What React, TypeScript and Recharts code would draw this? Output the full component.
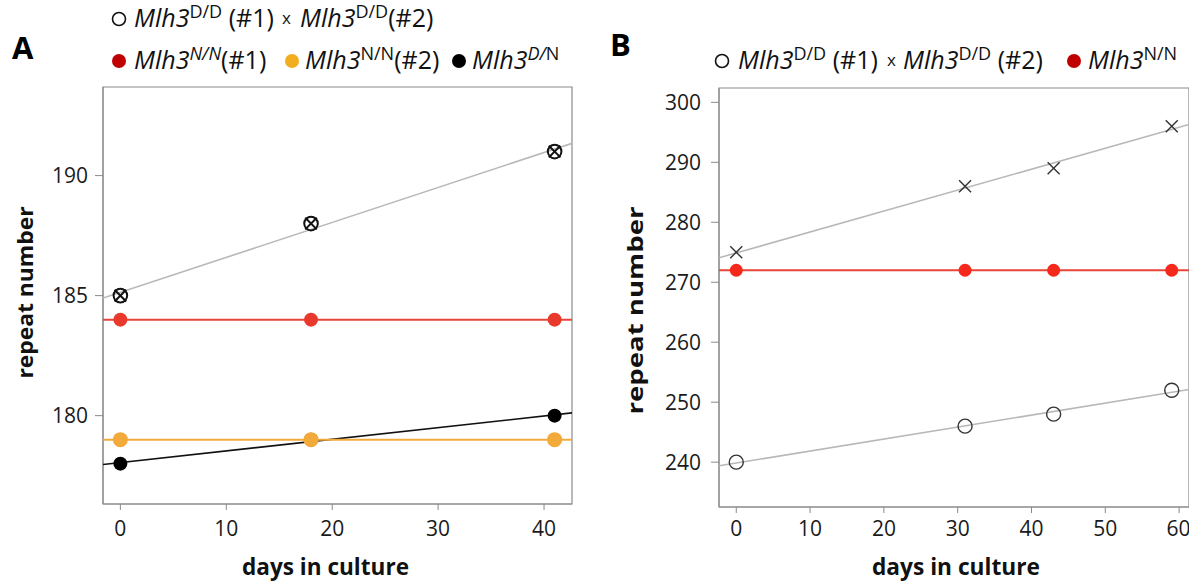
import React from 'react';
import { ScatterChart, Scatter, XAxis, YAxis, ReferenceArea, Label } from 'recharts';

// Panel A: days in culture and repeat numbers per line
const daysA = [0, 18, 41];
const ddA1 = [185, 188, 191];
const ddA2 = [185, 188, 191];
const nnA1 = [184, 184, 184];
const nnA2 = [179, 179, 179];
const dnA = [178, 179, 180];
const xTicksA = [0, 10, 20, 30, 40];
const yTicksA = [180, 185, 190];

// Panel B
const daysB = [0, 31, 43, 59];
const ddB1 = [240, 246, 248, 252];
const ddB2 = [275, 286, 289, 296];
const nnB = [272, 272, 272, 272];
const xTicksB = [0, 10, 20, 30, 40, 50, 60];
const yTicksB = [240, 250, 260, 270, 280, 290, 300];

const FONT = '"Open Sans", sans-serif';
const RED_DOT = '#e8392c';
const RED_LINE = '#e8453a';
const ORANGE = '#f2aa3a';
const GRAY_LINE = '#b8b8b8';
const FRAME = '#8a8a8a';

type Pt = { x: number; y: number };

function toPoints(xs: number[], ys: number[]): Pt[] {
  return xs.map((x, i) => ({ x, y: ys[i] }));
}

// least squares fit, drawn across the whole x range of the panel
function fitLine(xs: number[], ys: number[], domain: number[]): Pt[] {
  const n = xs.length;
  const mx = xs.reduce((a, b) => a + b, 0) / n;
  const my = ys.reduce((a, b) => a + b, 0) / n;
  let sxy = 0;
  let sxx = 0;
  xs.forEach((x, i) => {
    sxy += (x - mx) * (ys[i] - my);
    sxx += (x - mx) * (x - mx);
  });
  const slope = sxx === 0 ? 0 : sxy / sxx;
  const icpt = my - slope * mx;
  return domain.map((x) => ({ x, y: icpt + slope * x }));
}

const noShape = () => <g />;

const dot = (fill: string, r: number) => (p: any) => (
  <circle cx={p.cx} cy={p.cy} r={r} fill={fill} />
);

const openCircle = (r: number, sw: number, stroke: string) => (p: any) => (
  <circle cx={p.cx} cy={p.cy} r={r} fill="none" stroke={stroke} strokeWidth={sw} />
);

const cross = (h: number, sw: number, stroke: string) => (p: any) => (
  <g stroke={stroke} strokeWidth={sw}>
    <line x1={p.cx - h} y1={p.cy - h} x2={p.cx + h} y2={p.cy + h} />
    <line x1={p.cx - h} y1={p.cy + h} x2={p.cx + h} y2={p.cy - h} />
  </g>
);

const xTitle = (dx: number, len: number) => (props: any) => {
  const vb = props.viewBox;
  return (
    <text
      x={vb.x + vb.width / 2 + dx}
      y={575}
      textAnchor="middle"
      fontFamily={FONT}
      fontWeight={700}
      fontSize={23}
      fill="#111"
      textLength={len}
      lengthAdjust="spacingAndGlyphs"
    >
      days in culture
    </text>
  );
};

const yTitle = (x: number, dy: number, len: number) => (props: any) => {
  const vb = props.viewBox;
  const cy = vb.y + vb.height / 2 + dy;
  return (
    <text
      x={x}
      y={cy}
      transform={`rotate(-90 ${x} ${cy})`}
      textAnchor="middle"
      fontFamily={FONT}
      fontWeight={700}
      fontSize={22}
      fill="#111"
      textLength={len}
      lengthAdjust="spacingAndGlyphs"
    >
      repeat number
    </text>
  );
};

const tickStyle = { fill: '#1a1a1a', fontSize: 21, fontFamily: FONT };

const sup = (s: string, italic: boolean) => (
  <span
    style={{
      fontSize: '0.72em',
      position: 'relative',
      top: '-0.5em',
      fontStyle: italic ? 'italic' : 'normal',
    }}
  >
    {s}
  </span>
);

const legendBase: React.CSSProperties = {
  position: 'absolute',
  fontFamily: FONT,
  fontSize: 25,
  whiteSpace: 'nowrap',
  color: '#111',
  lineHeight: '30px',
};

// marker centred at (cx, cy), text starting at tx
function LegendItem({ cx, tx, cy, kind, color, children }: any) {
  let mark: React.ReactNode = null;
  if (kind === 'circle') {
    mark = <circle cx={9} cy={9} r={6.5} fill="none" stroke="#111" strokeWidth={1.6} />;
  } else if (kind === 'dot') {
    mark = <circle cx={9} cy={9} r={7} fill={color} />;
  }
  return (
    <>
      {kind === 'x' ? (
        <span
          style={{
            ...legendBase,
            fontSize: 17,
            left: cx - 5,
            top: cy - 13,
            lineHeight: '24px',
          }}
        >
          x
        </span>
      ) : (
        <svg width={18} height={18} style={{ position: 'absolute', left: cx - 9, top: cy - 9 }}>
          {mark}
        </svg>
      )}
      <div style={{ ...legendBase, left: tx, top: cy - 17 }}>{children}</div>
    </>
  );
}

function PanelA() {
  const dx = [-1.64, 42.64];
  const dy = [176.32, 193.69];
  return (
    <ScatterChart
      width={600}
      height={581}
      margin={{ top: 87, right: 28, bottom: 0, left: 0 }}
      style={{ position: 'absolute', left: 0, top: 0 }}
    >
      <XAxis
        type="number"
        dataKey="x"
        domain={dx}
        ticks={xTicksA}
        allowDataOverflow
        height={77}
        tick={tickStyle}
        tickSize={6}
        tickMargin={11}
        tickLine={{ stroke: FRAME }}
        axisLine={{ stroke: FRAME }}
      >
        <Label content={xTitle(-12, 167)} />
      </XAxis>
      <YAxis
        type="number"
        dataKey="y"
        domain={dy}
        ticks={yTicksA}
        allowDataOverflow
        width={103}
        tick={tickStyle}
        tickSize={8}
        tickMargin={7}
        tickLine={{ stroke: FRAME }}
        axisLine={{ stroke: FRAME }}
      >
        <Label content={yTitle(33, -3, 172)} />
      </YAxis>
      <ReferenceArea x1={dx[0]} x2={dx[1]} y1={dy[0]} y2={dy[1]} fill="none" stroke={FRAME} strokeWidth={1.2} />
      <Scatter data={fitLine(daysA, ddA1, dx)} shape={noShape} line={{ stroke: GRAY_LINE, strokeWidth: 1.6 }} isAnimationActive={false} />
      <Scatter data={fitLine(daysA, nnA1, dx)} shape={noShape} line={{ stroke: RED_LINE, strokeWidth: 2 }} isAnimationActive={false} />
      <Scatter data={fitLine(daysA, dnA, dx)} shape={noShape} line={{ stroke: '#111', strokeWidth: 1.6 }} isAnimationActive={false} />
      <Scatter data={fitLine(daysA, nnA2, dx)} shape={noShape} line={{ stroke: ORANGE, strokeWidth: 2 }} isAnimationActive={false} />
      <Scatter data={toPoints(daysA, dnA)} shape={dot('#000', 7)} isAnimationActive={false} />
      <Scatter data={toPoints(daysA, nnA1)} shape={dot(RED_DOT, 7)} isAnimationActive={false} />
      <Scatter data={toPoints(daysA, nnA2)} shape={dot(ORANGE, 7.5)} isAnimationActive={false} />
      <Scatter data={toPoints(daysA, ddA1)} shape={openCircle(6.8, 2, '#111')} isAnimationActive={false} />
      <Scatter data={toPoints(daysA, ddA2)} shape={cross(5.8, 2, '#111')} isAnimationActive={false} />
    </ScatterChart>
  );
}

function PanelB() {
  const dx = [-2.34, 61.34];
  const dy = [232.52, 302.39];
  return (
    <ScatterChart
      width={589}
      height={581}
      margin={{ top: 88, right: 0, bottom: 0, left: 0 }}
      style={{ position: 'absolute', left: 600, top: 0 }}
    >
      <XAxis
        type="number"
        dataKey="x"
        domain={dx}
        ticks={xTicksB}
        allowDataOverflow
        height={74}
        tick={tickStyle}
        tickSize={6}
        tickMargin={8}
        tickLine={{ stroke: FRAME }}
        axisLine={{ stroke: FRAME }}
      >
        <Label content={xTitle(2, 168)} />
      </XAxis>
      <YAxis
        type="number"
        dataKey="y"
        domain={dy}
        ticks={yTicksB}
        allowDataOverflow
        width={119}
        tick={tickStyle}
        tickSize={8}
        tickMargin={10}
        tickLine={{ stroke: FRAME }}
        axisLine={{ stroke: FRAME }}
      >
        <Label content={yTitle(43, 13, 208)} />
      </YAxis>
      <ReferenceArea x1={dx[0]} x2={dx[1]} y1={dy[0]} y2={dy[1]} fill="none" stroke={FRAME} strokeWidth={1.2} />
      <Scatter data={fitLine(daysB, ddB2, dx)} shape={noShape} line={{ stroke: GRAY_LINE, strokeWidth: 1.6 }} isAnimationActive={false} />
      <Scatter data={fitLine(daysB, ddB1, dx)} shape={noShape} line={{ stroke: GRAY_LINE, strokeWidth: 1.6 }} isAnimationActive={false} />
      <Scatter data={fitLine(daysB, nnB, dx)} shape={noShape} line={{ stroke: RED_LINE, strokeWidth: 2 }} isAnimationActive={false} />
      <Scatter data={toPoints(daysB, nnB)} shape={dot('#f5281c', 6.5)} isAnimationActive={false} />
      <Scatter data={toPoints(daysB, ddB1)} shape={openCircle(7, 1.4, '#333')} isAnimationActive={false} />
      <Scatter data={toPoints(daysB, ddB2)} shape={cross(6, 1.4, '#333')} isAnimationActive={false} />
    </ScatterChart>
  );
}

export default function App() {
  return (
    <div
      style={{
        position: 'absolute',
        left: 0,
        top: 0,
        width: 1189,
        height: 581,
        background: '#fff',
        overflow: 'hidden',
      }}
    >
      <PanelA />
      <PanelB />

      <div style={{ position: 'absolute', left: 12, top: 26, fontFamily: FONT, fontWeight: 700, fontSize: 31 }}>A</div>
      <div style={{ position: 'absolute', left: 610, top: 23, fontFamily: FONT, fontWeight: 700, fontSize: 31 }}>B</div>

      <LegendItem kind="circle" cx={119} tx={134} cy={19}>
        <i>Mlh3</i>{sup('D/D', false)} (#1)
      </LegendItem>
      <LegendItem kind="x" cx={287} tx={300} cy={19}>
        <i>Mlh3</i>{sup('D/D', false)}(#2)
      </LegendItem>

      <LegendItem kind="dot" color="#c00000" cx={119} tx={134} cy={61}>
        <i>Mlh3</i>{sup('N/N', true)}(#1)
      </LegendItem>
      <LegendItem kind="dot" color="#f0ae20" cx={292} tx={305} cy={61}>
        <i>Mlh3</i>{sup('N/N', false)}(#2)
      </LegendItem>
      <LegendItem kind="dot" color="#000" cx={459} tx={472} cy={61}>
        <i>Mlh3</i>{sup('D/', true)}{sup('N', false)}
      </LegendItem>

      <LegendItem kind="circle" cx={722} tx={738} cy={61}>
        <i>Mlh3</i>{sup('D/D', false)} (#1)
      </LegendItem>
      <LegendItem kind="x" cx={892} tx={903} cy={61}>
        <i>Mlh3</i>{sup('D/D', false)} (#2)
      </LegendItem>
      <LegendItem kind="dot" color="#c00000" cx={1074} tx={1088} cy={61}>
        <i>Mlh3</i>{sup('N/N', false)}
      </LegendItem>
    </div>
  );
}
